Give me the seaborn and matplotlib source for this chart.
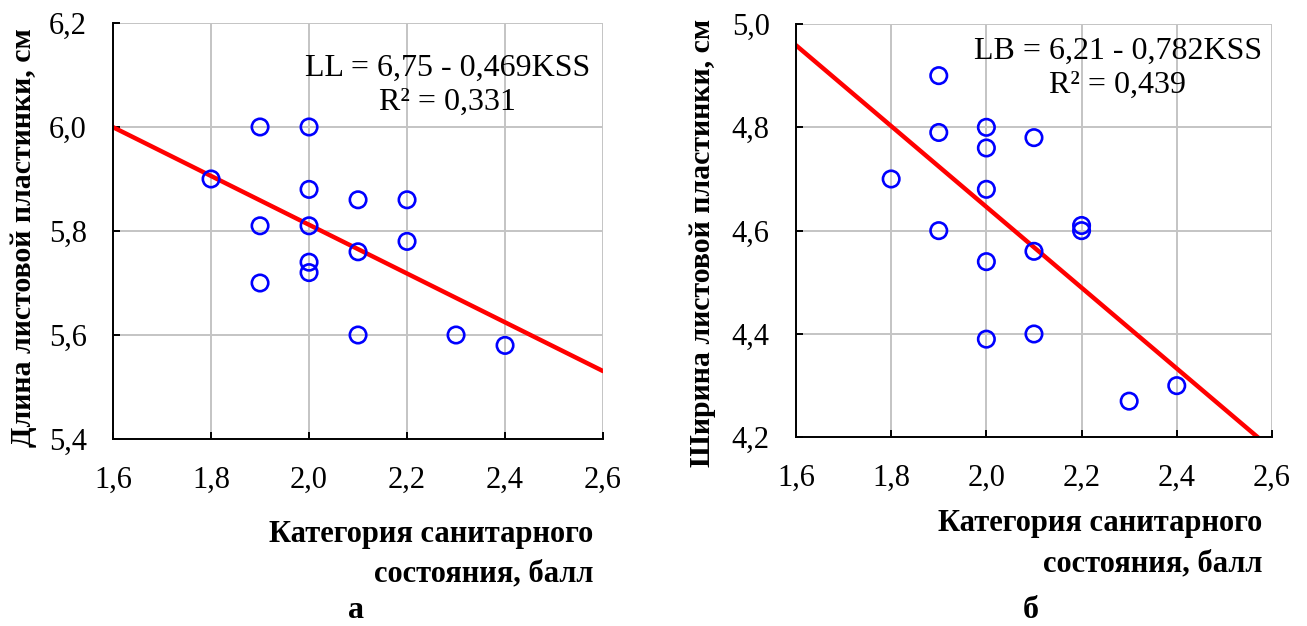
import numpy as np
import pandas as pd
import matplotlib
matplotlib.use("Agg")
import matplotlib.pyplot as plt
import seaborn as sns
from matplotlib.ticker import FuncFormatter, MultipleLocator

# ---- data ----
kss_a = [1.8, 1.9, 1.9, 1.9, 2.0, 2.0, 2.0, 2.0, 2.0, 2.1, 2.1, 2.1, 2.2, 2.2, 2.3, 2.4]
ll = [5.90, 6.00, 5.81, 5.70, 6.00, 5.88, 5.81, 5.74, 5.72, 5.86, 5.76, 5.60, 5.86, 5.78, 5.60, 5.58]
kss_b = [1.8, 1.9, 1.9, 1.9, 2.0, 2.0, 2.0, 2.0, 2.0, 2.1, 2.1, 2.1, 2.2, 2.2, 2.3, 2.4]
lb = [4.70, 4.90, 4.79, 4.60, 4.80, 4.76, 4.68, 4.54, 4.39, 4.78, 4.56, 4.40, 4.61, 4.60, 4.27, 4.30]
coef_a = [6.75, -0.469]
coef_b = [6.21, -0.782]
eq_a = "LL = 6,75 - 0,469KSS\nR² = 0,331"
eq_b = "LB = 6,21 - 0,782KSS\nR² = 0,439"
ylabel_a = "Длина листовой пластинки, см"
ylabel_b = "Ширина листовой пластинки, см"
xlabel = "Категория санитарного\nсостояния, балл"
panel_a = "а"
panel_b = "б"
xlim = (1.6, 2.6)
ylim_a = (5.4, 6.2)
ylim_b = (4.2, 5.0)

sns.set_theme(style="white")
plt.rcParams["font.family"] = ["Liberation Serif", "DejaVu Serif"]
plt.rcParams["text.color"] = "black"
plt.rcParams["axes.labelcolor"] = "black"
plt.rcParams["xtick.color"] = "black"
plt.rcParams["ytick.color"] = "black"

fig = plt.figure(figsize=(13.07, 6.26), dpi=100)
ax1 = fig.add_axes([0.0865, 0.2987, 0.3749, 0.6646])
ax2 = fig.add_axes([0.6090, 0.3014, 0.3642, 0.6603])

comma = FuncFormatter(lambda v, p: f"{v:.1f}".replace(".", ","))

def draw(ax, x, y, coef, ylim, eq, eq_xy, ylabel, ylab_xy, xlab_xy, panel, panel_x):
    ax.set_xlim(*xlim)
    ax.set_ylim(*ylim)
    ax.xaxis.set_major_locator(MultipleLocator(0.2))
    ax.yaxis.set_major_locator(MultipleLocator(0.2))
    ax.grid(True, color="#c4c4c4", linewidth=1.4, zorder=0)
    ax.set_axisbelow(True)
    xl = np.array(xlim)
    sns.lineplot(x=xl, y=coef[0] + coef[1] * xl, ax=ax, color="#ff0000",
                 linewidth=3.2, zorder=2)
    sns.scatterplot(x=x, y=y, ax=ax, marker="o", s=140, facecolor="none",
                    edgecolor="#0000ff", linewidth=1.9, zorder=3)
    for s in ["top", "right"]:
        ax.spines[s].set_visible(False)
    for s in ["left", "bottom"]:
        ax.spines[s].set_color("black")
        ax.spines[s].set_linewidth(1.4)
    ax.tick_params(axis="both", direction="in", length=5, width=1.4,
                   color="black", labelsize=22, left=True, bottom=True)
    ax.tick_params(axis="x", pad=19)
    ax.tick_params(axis="y", pad=19)
    ax.xaxis.set_major_formatter(comma)
    ax.yaxis.set_major_formatter(comma)
    ax.text(eq_xy[0], eq_xy[1], eq, transform=ax.transAxes, ha="center",
            va="top", fontsize=23, multialignment="center", linespacing=1.2,
            zorder=4)
    ax.set_ylabel(ylabel, fontsize=21.5, fontweight="bold")
    ax.yaxis.set_label_coords(ylab_xy[0], ylab_xy[1])
    ax.set_xlabel("")
    ax.text(xlab_xy[0], xlab_xy[1], xlabel, transform=ax.transAxes, ha="right",
            va="top", fontsize=22, fontweight="bold", multialignment="right",
            linespacing=1.5)
    fig.text(panel_x, 0.013, panel, ha="center", va="baseline", fontsize=23,
             fontweight="bold")

draw(ax1, kss_a, ll, coef_a, ylim_a, eq_a, (0.682, 0.925), ylabel_a,
     (-0.155, 0.483), (0.98, -0.194), panel_a, 0.272)
draw(ax2, kss_b, lb, coef_b, ylim_b, eq_b, (0.676, 0.968), ylabel_b,
     (-0.168, 0.471), (0.979, -0.174), panel_b, 0.789)

fig.savefig("out.png", dpi=100, facecolor="white")
